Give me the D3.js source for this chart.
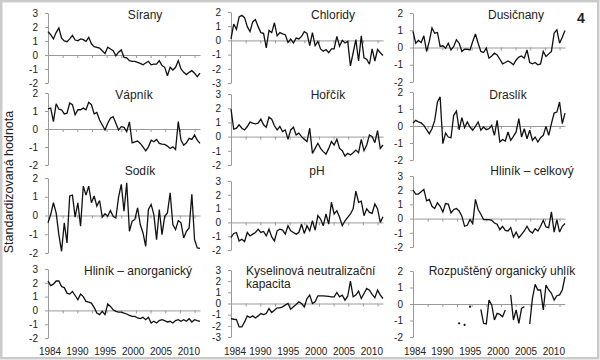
<!DOCTYPE html>
<html><head><meta charset="utf-8">
<script src="https://cdn.jsdelivr.net/npm/d3@7"></script>
<style>
body{margin:0;background:#fff}
svg{display:block}
text{font-family:"Liberation Sans",Arial,Helvetica,sans-serif}
</style>
</head><body>
<svg id="c" width="600" height="360"></svg>
<script>
// ---- data (standardized values, ~semi-annual steps 1984-2012) ----
const yearLabels = [1984, 1990, 1995, 2000, 2005, 2010];
const titles = ["Sírany","Chloridy","Dusičnany","Vápník","Hořčík","Draslík","Sodík","pH","Hliník – celkový","Hliník – anorganický",["Kyselinová neutralizační","kapacita"],"Rozpuštěný organický uhlík"];
const yDomains = [[-2,3],[-3,2],[-2,2],[-2,2],[-2,3],[-2,2],[-2,2],[-2,3],[-2,3],[-2,3],[-3,3],[-2,2]];

const sirany = [1.67,1.45,1.15,1.6,1.93,1.2,1.0,0.95,1.15,1.4,1.07,1.02,1.15,1.1,0.98,1.26,0.8,0.6,0.55,0.5,0.3,0.1,0.55,0.43,0.3,-0.05,0.2,0.36,-0.17,-0.2,-0.4,-0.45,-0.45,-0.52,-0.6,-0.7,-0.57,-0.45,-0.7,-0.65,-0.65,-0.4,-0.76,-0.88,-1.48,-0.88,-1.07,-0.88,-0.4,-1.0,-1.24,-1.4,-1.24,-1.12,-1.3,-1.55,-1.3];
const chloridy = [0.1,1.15,0.78,1.65,1.77,1.6,0.97,0.62,1.3,1.47,0.97,0.55,0.5,-0.53,0.7,0.55,1.24,0.32,0.55,0.46,0.4,-0.14,0.1,-0.18,0.16,0.1,0.28,0.62,0.5,-0.37,0.55,-0.37,-0.07,-0.6,-0.76,-0.64,-0.87,-0.6,-0.6,0.28,-0.41,0,-0.18,-0.07,-1.8,-0.87,0.05,-1.45,0.32,-1.22,-1.33,-1.68,-0.6,-1.45,-0.64,-0.87,-1.06];
const dusicnany = [0.93,0.25,0.41,0.29,0.68,-0.23,0.35,1.13,0.83,0.87,0.06,0.1,-0.04,0.25,-0.14,0.06,0.45,0.25,-0.23,-0.1,-0.1,-0.14,0.35,0.78,0.25,-0.23,-0.29,-0.04,-0.62,-0.49,-0.33,-0.43,-0.68,-0.95,-0.87,-0.78,-0.87,-1.0,-0.72,-0.56,-0.49,-0.62,-0.14,-0.87,-0.95,-0.87,-1.0,-0.95,-0.23,-0.52,-0.37,-0.23,0.83,1.03,0.25,0.6,0.99];
const vapnik = [1.12,1.16,0.41,1.4,1.1,1.07,0.84,0.88,1.44,1.35,0.79,1.07,1.07,1.16,1.07,1.48,1.35,0.84,0.92,0.5,0.22,-0.06,0.32,0.6,0.69,0.32,-0.06,0.13,0.09,-0.15,0.4,-0.77,-0.71,-0.67,-0.8,-0.99,-1.21,-0.99,-0.62,-0.71,-0.58,-0.8,-0.84,-0.86,-0.95,-1.08,-0.99,-1.14,0.41,-0.62,-0.9,-0.77,-0.52,-0.58,-0.34,-0.62,-0.8];
const horcik = [1.94,0.52,0.59,0.83,0.59,0.47,0.71,1.02,0.95,0.9,0.95,1.23,0.83,0.66,1.37,1.23,0.76,0.47,0.71,0.35,0.47,-0.19,0.47,0.66,0.12,0.24,0,-0.19,-0.35,0.59,-1.18,-0.83,-0.47,-0.83,-1.06,-1.23,-0.83,-0.35,-0.59,-0.19,-0.83,-0.99,-1.37,-1.18,-1.3,-1.13,-0.95,-1.13,-0.19,-0.99,-0.59,0.12,0,-0.43,0.43,-0.83,-0.59];
const draslik = [0.18,0.33,0.24,0.18,0.04,-0.22,-0.45,-0.16,0.33,1.41,1.71,-1.04,-0.41,-0.65,-0.69,0.63,0.88,-0.22,0.49,-0.1,0.24,-0.06,-0.25,-0.02,0.24,-0.25,-0.06,-0.22,-0.16,0.04,-0.55,0.33,-0.94,-0.8,-0.88,-0.35,-0.84,-0.61,-0.35,0.43,-0.65,-0.16,-0.75,-0.25,-0.84,-0.65,-0.94,-0.69,-0.55,-0.02,-0.55,0.14,0.76,0.82,1.41,0.14,0.76];
const sodik = [-0.39,0.05,0.68,0.14,-1.02,-1.91,-0.39,-1.46,1.04,1.09,-0.09,0.68,-0.57,1.57,1.09,1.57,0.68,1.04,0.5,0.8,-0.09,0.09,-0.04,0.27,-0.04,-0.13,0.98,1.66,0.23,1.75,-0.84,-0.3,-0.21,0.41,-0.48,-0.93,-1.64,0.32,0.59,0.05,-1.29,0.32,-1.02,-0.04,0.14,1.21,-0.48,-0.75,-0.27,-0.39,-1.2,-0.84,-0.66,1.13,-1.29,-1.73,-1.75];
const ph = [-1.1,-0.8,-0.73,-1.34,-1.22,-1.39,-0.73,-0.98,-0.85,-0.73,-0.49,-0.73,-0.66,-0.98,-0.49,-1.05,-1.34,-0.61,-0.49,-0.56,-0.85,-0.24,-0.61,-0.73,-0.85,-0.73,-0.12,-0.8,-0.24,-0.61,0.12,-0.56,0.49,0.24,-0.24,0.61,-0.12,1.46,0.61,0.85,0.37,-0.24,0.12,0.37,0.61,0.98,2.27,1.46,1.54,0.49,0.98,0.73,0.66,1.34,0.98,0,0.41];
const hlinikCelk = [2.0,1.73,1.73,1.89,2.06,1.25,1.35,0.87,0.71,1.11,0.87,0.47,1.06,1.02,0.4,0.64,0.71,0.54,0.17,-0.54,-0.47,-0.07,-0.35,1.35,0.64,0.31,-0.07,-0.07,-0.07,-0.12,-0.31,-0.4,-0.78,-0.54,-0.83,-0.87,-0.64,-1.3,-0.95,-1.35,-1.11,-0.87,-0.54,-0.87,-1.02,-0.71,-0.87,-0.54,-0.12,-0.59,-0.64,0.47,-0.95,-0.07,-0.95,-0.54,-0.35];
const hlinikAnorg = [2.13,1.8,1.9,2.13,2.13,1.73,1.65,1.25,1.18,1.37,1.08,0.77,1.18,1.0,0.65,0.6,0.53,0.22,-0.19,-0.31,-0.07,-0.31,0.46,0.29,0.05,-0.07,-0.12,-0.12,-0.19,-0.26,-0.36,-0.43,-0.43,-0.55,-0.6,-0.5,-0.67,-0.5,-0.91,-0.79,-0.91,-0.74,-0.67,-0.74,-0.84,-0.79,-0.91,-0.74,-0.67,-0.79,-0.67,-0.79,-0.6,-0.84,-0.67,-0.74,-0.79];
const knk = [-1.35,-1.41,-1.44,-2.1,-2.1,-1.65,-1.11,-1.26,-1.11,-1.29,-1.11,-0.9,-0.99,-0.9,-0.45,-0.81,-0.6,-0.39,-0.39,-0.3,-0.15,0,-0.51,-0.3,-0.09,0.15,0,-0.3,0.45,0.75,0,0.15,0.69,0.69,0.69,0.66,0.63,0.6,0.6,0.99,0.6,0.75,0.3,0.65,2.01,0.6,0.75,1.11,0.45,0.9,1.35,1.2,0.81,0.51,1.2,0.75,0.45];
const doc = [null,null,null,null,null,null,null,null,null,null,null,null,null,null,null,null,null,-1.17,null,-1.27,null,-0.16,null,null,null,-0.32,-1.17,-1.21,0.24,-0.06,-0.97,-0.57,-0.63,-0.77,-0.36,null,0.55,-0.97,-0.36,-1.17,-0.26,-0.16,null,-1.21,0.34,1.19,0.85,0.85,-0.36,1.15,0.85,0.65,0.24,0.5,0.55,0.85,1.66];

const series = [sirany, chloridy, dusicnany, vapnik, horcik, draslik, sodik, ph, hlinikCelk, hlinikAnorg, knk, doc];

// ---- layout (positions only) ----
const colX = [48, 231, 413];
const plotW = 152;
const layout = [
  {col:0, yTop:13,  yBot:83,  tx:145, ty:19,  anchor:"middle"},
  {col:1, yTop:12,  yBot:83,  tx:333, ty:19,  anchor:"middle"},
  {col:2, yTop:13,  yBot:82,  tx:516, ty:19,  anchor:"middle"},
  {col:0, yTop:93,  yBot:165, tx:134, ty:99,  anchor:"middle"},
  {col:1, yTop:94,  yBot:165, tx:328, ty:99,  anchor:"middle"},
  {col:2, yTop:92,  yBot:160, tx:508, ty:99,  anchor:"middle"},
  {col:0, yTop:178, yBot:253, tx:140, ty:175, anchor:"middle"},
  {col:1, yTop:181, yBot:250, tx:317, ty:175, anchor:"middle"},
  {col:2, yTop:176, yBot:247, tx:532, ty:175, anchor:"middle"},
  {col:0, yTop:269, yBot:338, tx:138, ty:275, anchor:"middle"},
  {col:1, yTop:270, yBot:337, tx:246, ty:275, anchor:"start"},
  {col:2, yTop:271, yBot:337, tx:502, ty:275, anchor:"middle"}
];
const labelY = [355, 355, 355];
const firstLabelShift = [2, 4, 2];

const svg = d3.select("#c");
svg.append("rect").attr("x",1.2).attr("y",1.2).attr("width",597).attr("height",357)
  .attr("fill","#fff").attr("stroke","#cacaca").attr("stroke-width",2.5);

const N = sirany.length;
const axisColor = "#9a9a9a";

series.forEach((vals, k) => {
  const L = layout[k];
  const x0 = colX[L.col];
  const dom = yDomains[k];
  const x = d3.scaleLinear().domain([0, N - 1]).range([x0, x0 + plotW]);
  const y = d3.scaleLinear().domain(dom).range([L.yBot, L.yTop]);
  const g = svg.append("g");

  // y axis
  const ya = g.append("g").attr("transform", `translate(${x0},0)`)
    .call(d3.axisLeft(y).tickValues(d3.range(dom[0], dom[1] + 1))
      .tickSize(3).tickSizeOuter(0).tickPadding(7).tickFormat(d => String(d)));
  ya.selectAll("path,line").attr("stroke", axisColor);
  ya.selectAll("text").attr("font-size", 10).attr("fill", "#222")
    .attr("font-family", '"Liberation Sans",Arial,sans-serif');

  // zero line with ticks
  const za = g.append("g").attr("transform", `translate(0,${y(0)})`)
    .call(d3.axisBottom(x).tickValues(d3.range(0, N, 5.4)).tickSize(3).tickSizeOuter(0).tickFormat(""));
  za.selectAll("path,line").attr("stroke", axisColor);

  // line
  const line = d3.line().defined(d => d != null).x((d, i) => x(i)).y(d => y(d));
  g.append("path").datum(vals).attr("d", line)
    .attr("fill", "none").attr("stroke", "#111").attr("stroke-width", 1.3)
    .attr("stroke-linejoin", "miter").attr("stroke-miterlimit", 3);

  // isolated points
  const iso = vals.map((v, i) => ({v, i}))
    .filter(o => o.v != null && (o.i === 0 || vals[o.i - 1] == null) && (o.i === N - 1 || vals[o.i + 1] == null));
  g.selectAll("circle.iso").data(iso).enter().append("circle")
    .attr("cx", o => x(o.i)).attr("cy", o => y(o.v)).attr("r", 1.1).attr("fill", "#111");

  // title
  const t = titles[k];
  const lines = Array.isArray(t) ? t : [t];
  const tt = g.append("text").attr("x", L.tx).attr("y", L.ty).attr("text-anchor", L.anchor)
    .attr("font-size", 12).attr("fill", "#222");
  lines.forEach((s, j) => tt.append("tspan").attr("x", L.tx).attr("dy", j === 0 ? 0 : 13).text(s));

  // year labels on bottom row
  if (k >= 9) {
    const yr = d3.scaleLinear().domain([1984, 2012]).range([x0 - 4, x0 + plotW]);
    g.selectAll("text.yr").data(yearLabels).enter().append("text")
      .attr("x", d => Math.max(yr(d), x0 + firstLabelShift[L.col])).attr("y", labelY[L.col])
      .attr("text-anchor", "middle").attr("font-size", 10).attr("fill", "#222")
      .text(d => d);
  }
});

// y axis title
svg.append("text").attr("transform", "translate(12.5,182) rotate(-90)")
  .attr("text-anchor", "middle").attr("font-size", 12.5).attr("fill", "#222")
  .text("Standardizovaná hodnota");

// figure number
svg.append("text").attr("x", 581).attr("y", 23).attr("text-anchor", "middle")
  .attr("font-family", '"DejaVu Serif","Liberation Serif",serif').attr("font-weight", "bold")
  .attr("font-size", 14).attr("fill", "#222").text("4");
</script>
</body></html>
